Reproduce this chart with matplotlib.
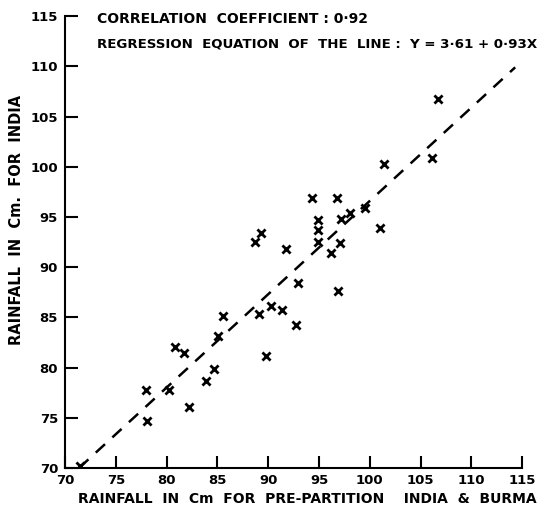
import numpy as np
import matplotlib
matplotlib.use("Agg")
import matplotlib.pyplot as plt

# rainfall values (cm)
burma_india = [71.5, 78.0, 78.1, 80.2, 80.8, 81.7, 82.2, 83.9, 84.7, 85.1,
               85.5, 89.1, 90.3, 89.8, 91.4, 92.7, 88.7, 89.3, 91.7, 92.9,
               94.3, 96.8, 94.9, 94.9, 97.2, 98.0, 99.5, 101.0, 94.9, 97.1,
               96.2, 96.9, 101.4, 106.1, 106.7]
india = [70.2, 77.8, 74.7, 77.8, 82.0, 81.5, 76.1, 78.7, 79.9, 83.1,
         85.1, 85.3, 86.1, 81.2, 85.7, 84.2, 92.5, 93.4, 91.8, 88.4,
         96.9, 96.9, 94.7, 93.7, 94.8, 95.4, 95.9, 93.9, 92.5, 92.4,
         91.4, 87.6, 100.3, 100.9, 106.8]

intercept = 3.61
slope = 0.93
line_x = np.array([71.4, 114.3])

ticks = [70, 75, 80, 85, 90, 95, 100, 105, 110, 115]

fig = plt.figure(figsize=(5.53, 5.07), dpi=100)
ax = fig.add_axes([0.1175, 0.077, 0.827, 0.891])

ax.plot(line_x, intercept + slope * line_x, color="black", lw=1.8,
        dashes=(5, 4))
ax.scatter(burma_india, india, marker="x", color="black", s=34, linewidths=2)

ax.set_xlim(70, 115)
ax.set_ylim(70, 115)
ax.set_xticks(ticks)
ax.set_yticks(ticks)
ax.tick_params(direction="in", length=9, width=1.5, labelsize=9.5)
ax.tick_params(axis="x", pad=4)
ax.tick_params(axis="y", pad=5)
for lab in ax.get_xticklabels() + ax.get_yticklabels():
    lab.set_fontweight("bold")
for s in ["top", "right"]:
    ax.spines[s].set_visible(False)
for s in ["left", "bottom"]:
    ax.spines[s].set_linewidth(1.5)

ax.set_xlabel("RAINFALL  IN  Cm  FOR  PRE-PARTITION    INDIA  &  BURMA",
              fontsize=10, fontweight="bold")
ax.xaxis.set_label_coords(0.53, -0.053)
ax.set_ylabel("RAINFALL  IN  Cm.  FOR  INDIA", fontsize=10.5, fontweight="bold")
ax.yaxis.set_label_coords(-0.09, 0.55)

fig.text(0.175, 0.962, "CORRELATION  COEFFICIENT : 0·92", fontsize=10,
         fontweight="bold", va="center")
fig.text(0.175, 0.913, "REGRESSION  EQUATION  OF  THE  LINE :  Y = 3·61 + 0·93X",
         fontsize=9.6, fontweight="bold", va="center")

fig.savefig("out.png", dpi=100)
